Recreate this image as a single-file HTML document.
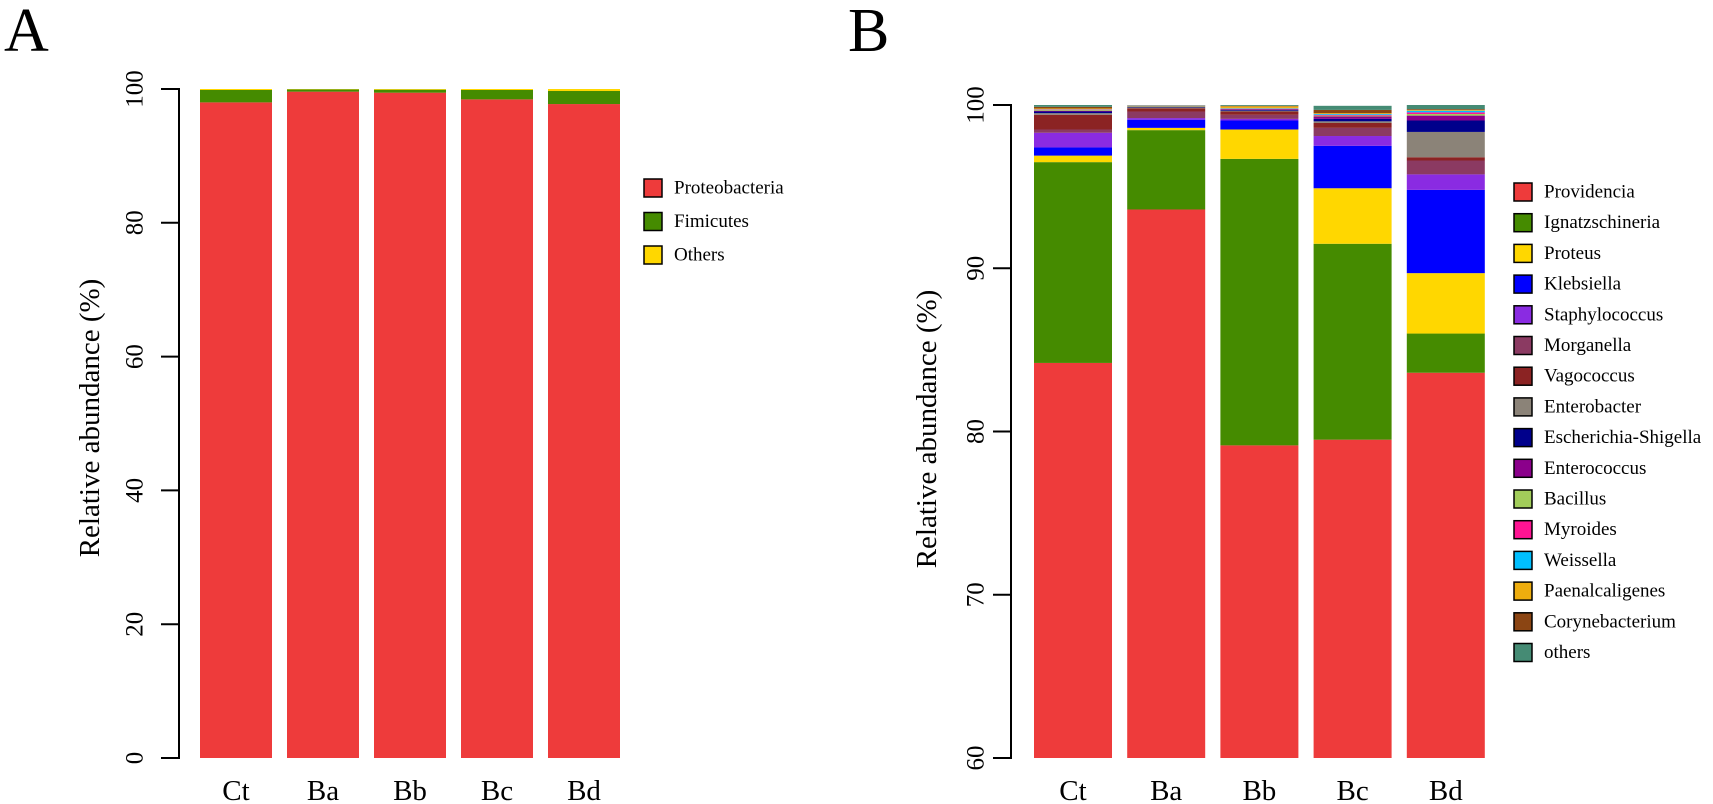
<!DOCTYPE html>
<html><head><meta charset="utf-8"><style>
html,body{margin:0;padding:0;background:#fff;}
svg{display:block;font-family:"Liberation Serif",serif;}
</style></head><body>
<svg id="chart" width="1713" height="804" viewBox="0 0 1713 804" xmlns="http://www.w3.org/2000/svg">
<text x="4" y="51" font-size="62">A</text>
<text x="848" y="51" font-size="62">B</text>
<g id="pa"></g>
<g id="pb"></g>
</svg>
<script>
const samples = ["Ct","Ba","Bb","Bc","Bd"];
const phylaNames = ["Proteobacteria","Fimicutes","Others"];
const phylaColors = ["#EE3B3B","#458B00","#FFD700"];
const proteobacteria = [98.0,99.6,99.45,98.45,97.75];
const firmicutes = [1.85,0.35,0.45,1.4,1.95];
const phylaOthers = [0.15,0.05,0.1,0.15,0.3];
const ticksA = [0,20,40,60,80,100];

const genusNames = ["Providencia","Ignatzschineria","Proteus","Klebsiella","Staphylococcus","Morganella","Vagococcus","Enterobacter","Escherichia-Shigella","Enterococcus","Bacillus","Myroides","Weissella","Paenalcaligenes","Corynebacterium","others"];
const genusColors = ["#EE3B3B","#458B00","#FFD700","#0000FF","#8A2BE2","#8B3A62","#8B2323","#8B8378","#00008B","#8B008B","#A2CD5A","#FF1493","#00BFFF","#EEAD0E","#8B4513","#458B74"];
const genusCt = [84.2,12.3,0.4,0.5,0.9,0.2,0.9,0.1,0.1,0.05,0.05,0.02,0.02,0.05,0.1,0.11];
const genusBa = [93.6,4.86,0.14,0.5,0.1,0.4,0.2,0.05,0.03,0.02,0.05,0.01,0.01,0.01,0.01,0.01];
const genusBb = [79.15,17.55,1.8,0.55,0.1,0.25,0.2,0.05,0.05,0.05,0.03,0.02,0.02,0.1,0.03,0.05];
const genusBc = [79.5,12.0,3.4,2.6,0.6,0.5,0.3,0.1,0.15,0.15,0.05,0.05,0.05,0.05,0.2,0.25];
const genusBd = [83.6,2.4,3.7,5.1,0.95,0.85,0.2,1.55,0.7,0.3,0.1,0.1,0.1,0.05,0.05,0.25];
const ticksB = [60,70,80,90,100];

const NS="http://www.w3.org/2000/svg";
function mk(tag, attrs, parent, txt){
  const e=document.createElementNS(NS,tag);
  for(const k in attrs) e.setAttribute(k,attrs[k]);
  if(txt!==undefined) e.textContent=txt;
  parent.appendChild(e); return e;
}

function drawPanel(g, cfg){
  const y = v => cfg.y0 - (v-cfg.vmin)/(cfg.vmax-cfg.vmin)*(cfg.y0-cfg.y1);
  const x = i => cfg.bx0 + i*cfg.pitch;
  cfg.stacks.forEach((stack, bi) => {
    let cum = 0;
    stack.forEach((v, si) => {
      const lo = Math.max(cum, cfg.vmin);
      cum += v;
      const hi = Math.min(cum, cfg.vmax);
      if (hi <= lo) return;
      const r = mk('rect',{x:x(bi), y:y(hi), width:cfg.bw, height:y(lo)-y(hi), fill:cfg.colors[si]}, g);
      
      
    });
    const t = mk('text',{x:x(bi)+cfg.bw/2, y:cfg.labelY, 'font-size':29, 'text-anchor':'middle'}, g, samples[bi]);
    
    
  });
  const ax = mk('path',{d:`M${cfg.ax} ${y(cfg.ticks[0])} V${y(cfg.ticks[cfg.ticks.length-1])}`, stroke:'#000', 'stroke-width':2, fill:'none'}, g);
  
  
  cfg.ticks.forEach(tv => {
    const tk = mk('line',{x1:cfg.ax-18, x2:cfg.ax+1, y1:y(tv), y2:y(tv), stroke:'#000','stroke-width':2}, g);
    
    
    const lx = cfg.ax-cfg.tlOff;
    const tl = mk('text',{x:lx, y:y(tv), 'font-size':25, 'text-anchor':'middle', 'dominant-baseline':'central', transform:`rotate(-90 ${lx} ${y(tv)})`}, g, String(tv));
    
    
  });
  const tt = mk('text',{x:cfg.titleX, y:cfg.titleY, 'font-size':29, 'text-anchor':'middle', 'dominant-baseline':'central', transform:`rotate(-90 ${cfg.titleX} ${cfg.titleY})`}, g, 'Relative abundance (%)');
  
  
  cfg.names.forEach((n, i) => {
    const cy = cfg.legY + i*cfg.legStep;
    const sq = mk('rect',{x:cfg.legX, y:cy-9, width:18, height:18, fill:cfg.colors[i], stroke:'#000','stroke-width':1.5}, g);
    
    
    const lt = mk('text',{x:cfg.legX+30, y:cy, 'font-size':19, 'dominant-baseline':'central'}, g, n);
    
    
  });
}

const stacksA = samples.map((s,i)=>[proteobacteria[i], firmicutes[i], phylaOthers[i]]);
drawPanel(document.getElementById('pa'), {
  stacks: stacksA, names: phylaNames, colors: phylaColors,
  vmin:0, vmax:100, y0:758, y1:89, bx0:200, pitch:87, bw:72, ax:179, tlOff:44,
  ticks: ticksA, labelY:800, titleX:90, titleY:418, legX:644, legY:188, legStep:33.5
});
const stacksB = [genusCt, genusBa, genusBb, genusBc, genusBd];
drawPanel(document.getElementById('pb'), {
  stacks: stacksB, names: genusNames, colors: genusColors,
  vmin:60, vmax:100, y0:758, y1:105, bx0:1034, pitch:93.2, bw:78, ax:1011, tlOff:35,
  ticks: ticksB, labelY:800, titleX:927, titleY:429, legX:1514, legY:192, legStep:30.7
});
</script>
</body></html>
